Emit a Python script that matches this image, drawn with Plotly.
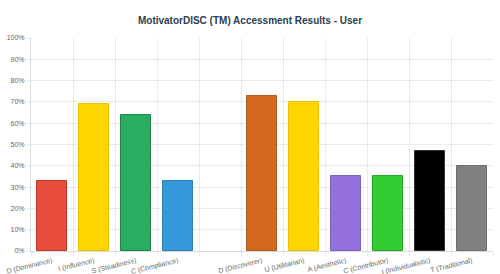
import plotly.graph_objects as go

categories = ["D (Dominance)", "I (Influence)", "S (Steadiness)", "C (Compliance)", " ",
              "D (Discoverer)", "U (Utilitarian)", "A (Aesthetic)", "C (Contributor)",
              "I (Individualistic)", "T (Traditional)"]
values = [33, 69, 64, 33, None, 73, 70, 35, 35, 47, 40]
colors = ["#e74c3c", "#FFD700", "#27ae60", "#3498db", "rgba(0,0,0,0)",
          "#D2691E", "#FFD700", "#9370DB", "#32CD32", "#000000", "#808080"]
borders = ["#c0392b", "#e6c200", "#1e8449", "#2980b9", "rgba(0,0,0,0)",
           "#b3591a", "#e6c200", "#7d5fc0", "#28a828", "#333333", "#6e6e6e"]
y_ticks = list(range(0, 101, 10))
y_tick_labels = [f"{t}%" for t in y_ticks]

fig = go.Figure(go.Bar(
    x=categories, y=values,
    marker=dict(color=colors, line=dict(color=borders, width=1)),
    width=0.72,
    hoverinfo="skip",
))

grid = "rgba(0,0,0,0.08)"
fig.update_layout(
    width=500, height=274,
    margin=dict(l=31, r=7, t=38, b=23),
    paper_bgcolor="white", plot_bgcolor="white",
    font=dict(family="Liberation Sans, Arial, sans-serif", color="#666666", size=7),
    title=dict(text="<b>MotivatorDISC (TM) Accessment Results - User</b>",
               x=0.5, xanchor="center", y=1 - 20.5 / 274, yanchor="middle",
               font=dict(size=10, color="#2c3e50")),
    showlegend=False,
    bargap=0,
)
fig.update_xaxes(
    type="category", tickangle=-14, tickson="boundaries",
    showgrid=True, gridcolor=grid, gridwidth=1,
    showline=True, linecolor="rgba(0,0,0,0.15)",
    ticks="outside", ticklen=4, tickcolor=grid,
    ticklabelstandoff=2,
    tickfont=dict(size=7, color="#666666"),
    automargin=False,
)
fig.update_yaxes(
    range=[0, 100], tickvals=y_ticks, ticktext=y_tick_labels,
    showgrid=True, gridcolor=grid, gridwidth=1,
    showline=True, linecolor="rgba(0,0,0,0.15)",
    ticks="outside", ticklen=4, tickcolor=grid,
    tickfont=dict(size=7, color="#666666"),
    zeroline=False, automargin=False,
)

fig.write_html("out.html")
